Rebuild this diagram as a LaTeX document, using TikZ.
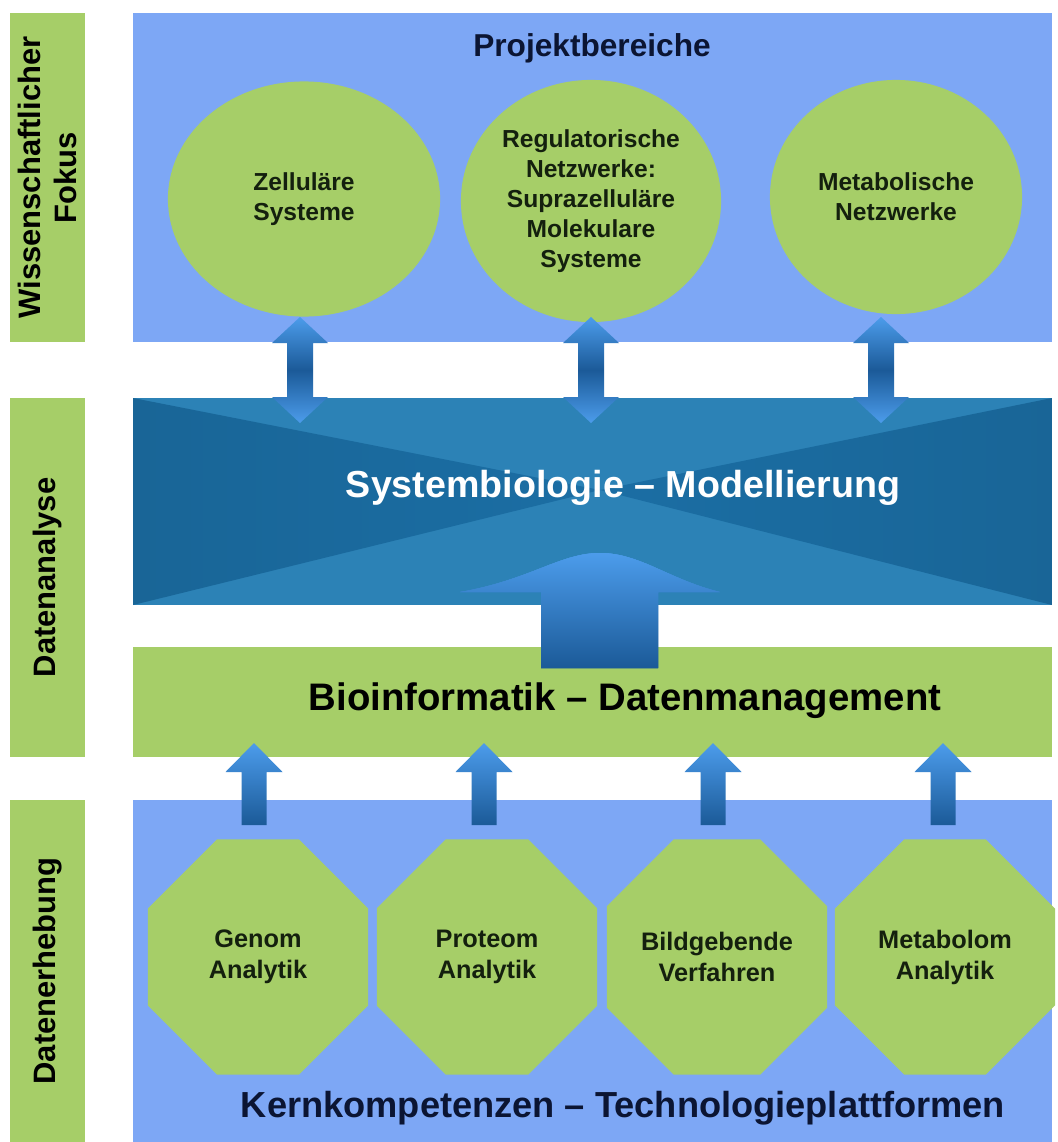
\documentclass[tikz,border=0pt]{standalone}
\usepackage{fontspec}
\setmainfont{Liberation Sans}
\usetikzlibrary{shapes.geometric,shapes.misc}

\definecolor{panelblue}{HTML}{7DA7F5}
\definecolor{leafgreen}{HTML}{A6CE68}
\definecolor{bandlight}{HTML}{2C82B6}
\definecolor{banddark}{HTML}{1B6EA4}
\definecolor{arrowlight}{HTML}{4C9CEB}
\definecolor{arrowdark}{HTML}{1B5A98}
\definecolor{darktext}{HTML}{14200E}
\definecolor{navytext}{HTML}{0B1533}

\tikzset{
  bereich/.style={ellipse, fill=leafgreen, inner sep=0pt, align=center, text=darktext,
    font=\bfseries\fontsize{7}{8.5}\selectfont},
  plattform/.style={chamfered rectangle, chamfered rectangle xsep=0.42cm,
    chamfered rectangle ysep=0.42cm, minimum width=2.20cm, minimum height=2.35cm,
    fill=leafgreen, inner sep=0pt, align=center, text=darktext,
    font=\bfseries\fontsize{7.2}{8.8}\selectfont},
  ebene/.style={fill=leafgreen, rotate=90, minimum height=0.75cm, inner sep=0pt,
    align=center, font=\bfseries\fontsize{8.8}{10}\selectfont},
  titel/.style={anchor=base, font=\bfseries\fontsize{10.7}{12}\selectfont}
}

% x, bottom y, tip y, half shaft, half head, head length
\newcommand{\blockarrowup}[6]{%
  \shade[top color=arrowlight, bottom color=arrowdark]
    (#1-#4,#2) -- (#1-#4,#3+#6) -- (#1-#5,#3+#6) -- (#1,#3) -- (#1+#5,#3+#6)
    -- (#1+#4,#3+#6) -- (#1+#4,#2) -- cycle;}
% x, upper tip, lower tip, half shaft, half head, head length
\newcommand{\blockarrowboth}[6]{%
  \shade[top color=arrowlight, bottom color=arrowlight, middle color=arrowdark]
    (#1,#2) -- (#1+#5,#2+#6) -- (#1+#4,#2+#6) -- (#1+#4,#3-#6) -- (#1+#5,#3-#6)
    -- (#1,#3) -- (#1-#5,#3-#6) -- (#1-#4,#3-#6) -- (#1-#4,#2+#6) -- (#1-#5,#2+#6) -- cycle;}

\begin{document}
\begin{tikzpicture}[x=0.01cm, y=-0.01cm]
\useasboundingbox (0,0) rectangle (1057,1142);
\fill[white] (0,0) rectangle (1057,1142);

% Ebenen links
\node[ebene, minimum width=3.29cm] (fokus) at (47.5,177.5) {Wissenschaftlicher\\Fokus};
\node[ebene, minimum width=3.59cm] (analyse) at (47.5,577.5) {Datenanalyse};
\node[ebene, minimum width=3.42cm] (erhebung) at (47.5,971) {Datenerhebung};

% Projektbereiche
\fill[panelblue] (133,13) rectangle (1052,342);
\node[titel, font=\bfseries\fontsize{9}{11}\selectfont, text=navytext] (projekt) at (592,56) {Projektbereiche};
\node[bereich, minimum width=2.72cm, minimum height=2.35cm] (zell) at (304,199) {Zelluläre\\Systeme};
\node[bereich, minimum width=2.60cm, minimum height=2.42cm] (regnet) at (591,201) {Regulatorische\\Netzwerke:\\Suprazelluläre\\Molekulare\\Systeme};
\node[bereich, minimum width=2.52cm, minimum height=2.34cm] (metab) at (896,197) {Metabolische\\Netzwerke};

% Systembiologie
\fill[bandlight] (133,398) rectangle (1052,605);
\shade[left color=banddark!92!black, right color=banddark] (133,398) -- (600,490) -- (133,605) -- cycle;
\shade[left color=banddark, right color=banddark!92!black] (1052,398) -- (600,490) -- (1052,605) -- cycle;

% Bioinformatik
\fill[leafgreen] (133,647) rectangle (1052,757);

% Kernkompetenzen
\fill[panelblue] (133,800) rectangle (1052,1142);
\node[plattform] (genom) at (258,957) {Genom\\Analytik};
\node[plattform] (proteom) at (487,957) {Proteom\\Analytik};
\node[plattform] (bild) at (717,957) {Bildgebende\\Verfahren};
\node[plattform] (metabolom) at (945,957) {Metabolom\\Analytik};

% Pfeile
\blockarrowboth{300}{317}{423}{13}{28}{26}
\blockarrowboth{591}{317}{423}{13}{28}{26}
\blockarrowboth{881}{317}{423}{13}{28}{26}
\foreach \px in {254,484,713,943}
  \blockarrowup{\px}{825}{743}{12.5}{28.5}{29}
\shade[top color=arrowlight, bottom color=arrowdark]
  (541,668) -- (541,592) -- (460,592) .. controls (530,580) and (560,553) .. (600,553)
  .. controls (640,553) and (670,580) .. (720,592) -- (658,592) -- (658,668) -- cycle;

\node[titel, text=white] (sysbio) at (623,497) {Systembiologie – Modellierung};
\node[titel, font=\bfseries\fontsize{10.9}{12}\selectfont] (bioinf) at (625,710) {Bioinformatik – Datenmanagement};
\node[titel, font=\bfseries\fontsize{10.3}{12}\selectfont, text=navytext] (kern) at (623,1117) {Kernkompetenzen – Technologieplattformen};
\end{tikzpicture}
\end{document}
